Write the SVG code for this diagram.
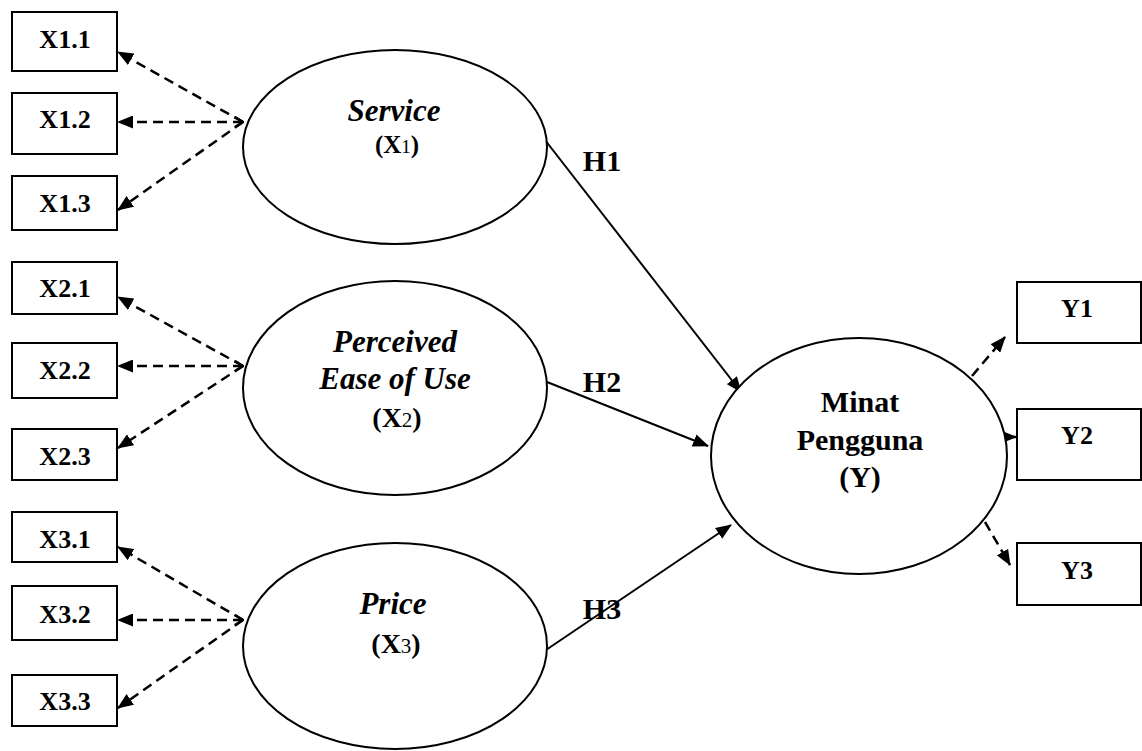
<svg xmlns="http://www.w3.org/2000/svg" width="1142" height="751" viewBox="0 0 1142 751">
<style>
.box{fill:#fff;stroke:#000;stroke-width:2}
.ell{fill:#fff;stroke:#000;stroke-width:2}
.lbl{font-family:"Liberation Serif","Times New Roman",serif;font-weight:bold;font-size:26px;text-anchor:middle;fill:#000}
.it{font-family:"Liberation Serif","Times New Roman",serif;font-weight:bold;font-style:italic;font-size:31px;text-anchor:middle;fill:#000}
.bd{font-family:"Liberation Serif","Times New Roman",serif;font-weight:bold;font-size:30px;text-anchor:middle;fill:#000}
.sub{font-weight:normal;font-size:19px}
.dash{fill:none;stroke:#000;stroke-width:2.5;stroke-dasharray:10 6}
.solid{fill:none;stroke:#000;stroke-width:2}
</style>
<defs>
<marker id="tri" markerUnits="userSpaceOnUse" viewBox="0 0 16 13" refX="15" refY="6.5" markerWidth="16" markerHeight="13" orient="auto-start-reverse"><path d="M0,0 L16,6.5 L0,13 z" fill="#000"/></marker>
<marker id="chev" markerUnits="userSpaceOnUse" viewBox="0 0 10 12" refX="9" refY="6" markerWidth="10" markerHeight="12" orient="auto-start-reverse"><path d="M1,1 L9,6 L1,11" fill="none" stroke="#000" stroke-width="2.5"/></marker>
</defs>

<g id="connectors">
<line class="dash" x1="243" y1="122" x2="118" y2="52" marker-end="url(#tri)"/>
<line class="dash" x1="243" y1="122" x2="118" y2="122" marker-start="url(#chev)" marker-end="url(#tri)"/>
<line class="dash" x1="243" y1="122" x2="118" y2="210" marker-end="url(#tri)"/>
<line class="dash" x1="243" y1="366" x2="118" y2="297" marker-end="url(#tri)"/>
<line class="dash" x1="243" y1="366" x2="118" y2="366" marker-start="url(#chev)" marker-end="url(#tri)"/>
<line class="dash" x1="243" y1="366" x2="118" y2="448" marker-end="url(#tri)"/>
<line class="dash" x1="243" y1="620" x2="118" y2="547" marker-end="url(#tri)"/>
<line class="dash" x1="243" y1="620" x2="118" y2="620" marker-start="url(#chev)" marker-end="url(#tri)"/>
<line class="dash" x1="243" y1="620" x2="118" y2="708" marker-end="url(#tri)"/>
<line class="solid" x1="545" y1="140" x2="741" y2="392" marker-end="url(#tri)"/>
<line class="solid" x1="547" y1="382" x2="708" y2="446" marker-end="url(#tri)"/>
<line class="solid" x1="543" y1="652" x2="731" y2="525" marker-end="url(#tri)"/>
<line class="dash" x1="972" y1="376" x2="1005" y2="337" marker-end="url(#tri)"/>
<line class="dash" x1="993" y1="437" x2="1016" y2="437" marker-end="url(#tri)"/>
<line class="dash" x1="985" y1="522" x2="1010" y2="565" marker-end="url(#tri)"/>
<text class="bd" x="602" y="171">H1</text>
<text class="bd" x="602" y="392">H2</text>
<text class="bd" x="602" y="619">H3</text>
</g>

<g id="x11"><rect class="box" x="12" y="12" width="105" height="59"/><text class="lbl" x="65" y="48">X1.1</text></g>
<g id="x12"><rect class="box" x="12" y="93" width="105" height="61"/><text class="lbl" x="65" y="128">X1.2</text></g>
<g id="x13"><rect class="box" x="12" y="176" width="105" height="54"/><text class="lbl" x="65" y="212">X1.3</text></g>
<g id="x21"><rect class="box" x="12" y="262" width="105" height="52"/><text class="lbl" x="65" y="297">X2.1</text></g>
<g id="x22"><rect class="box" x="12" y="343" width="105" height="55"/><text class="lbl" x="65" y="379">X2.2</text></g>
<g id="x23"><rect class="box" x="12" y="429" width="105" height="51"/><text class="lbl" x="65" y="465">X2.3</text></g>
<g id="x31"><rect class="box" x="12" y="512" width="105" height="50"/><text class="lbl" x="65" y="548">X3.1</text></g>
<g id="x32"><rect class="box" x="12" y="586" width="105" height="54"/><text class="lbl" x="65" y="623">X3.2</text></g>
<g id="x33"><rect class="box" x="12" y="675" width="105" height="51"/><text class="lbl" x="65" y="710">X3.3</text></g>

<g id="service"><ellipse class="ell" cx="395" cy="147" rx="152" ry="97"/>
<text class="it" x="394" y="121">Service</text>
<text class="bd" x="397" y="153" style="font-size:25px">(X<tspan class="sub">1</tspan>)</text></g>

<g id="peou"><ellipse class="ell" cx="395" cy="388" rx="152" ry="107"/>
<text class="it" x="395" y="352">Perceived</text>
<text class="it" x="395" y="389">Ease of Use</text>
<text class="bd" x="397" y="427" style="font-size:28px">(X<tspan class="sub" style="font-size:21px">2</tspan>)</text></g>

<g id="price"><ellipse class="ell" cx="395" cy="646" rx="152" ry="103"/>
<text class="it" x="393" y="614">Price</text>
<text class="bd" x="396" y="653" style="font-size:28px">(X<tspan class="sub" style="font-size:21px">3</tspan>)</text></g>

<g id="minat"><ellipse class="ell" cx="859" cy="456" rx="148" ry="118"/>
<text class="bd" x="860" y="412">Minat</text>
<text class="bd" x="860" y="450">Pengguna</text>
<text class="bd" x="860" y="487">(Y)</text></g>

<g id="y1"><rect class="box" x="1017" y="282" width="124" height="61"/><text class="lbl" x="1077" y="317">Y1</text></g>
<g id="y2"><rect class="box" x="1017" y="409" width="124" height="71"/><text class="lbl" x="1077" y="444">Y2</text></g>
<g id="y3"><rect class="box" x="1017" y="543" width="124" height="62"/><text class="lbl" x="1077" y="579">Y3</text></g>
</svg>
